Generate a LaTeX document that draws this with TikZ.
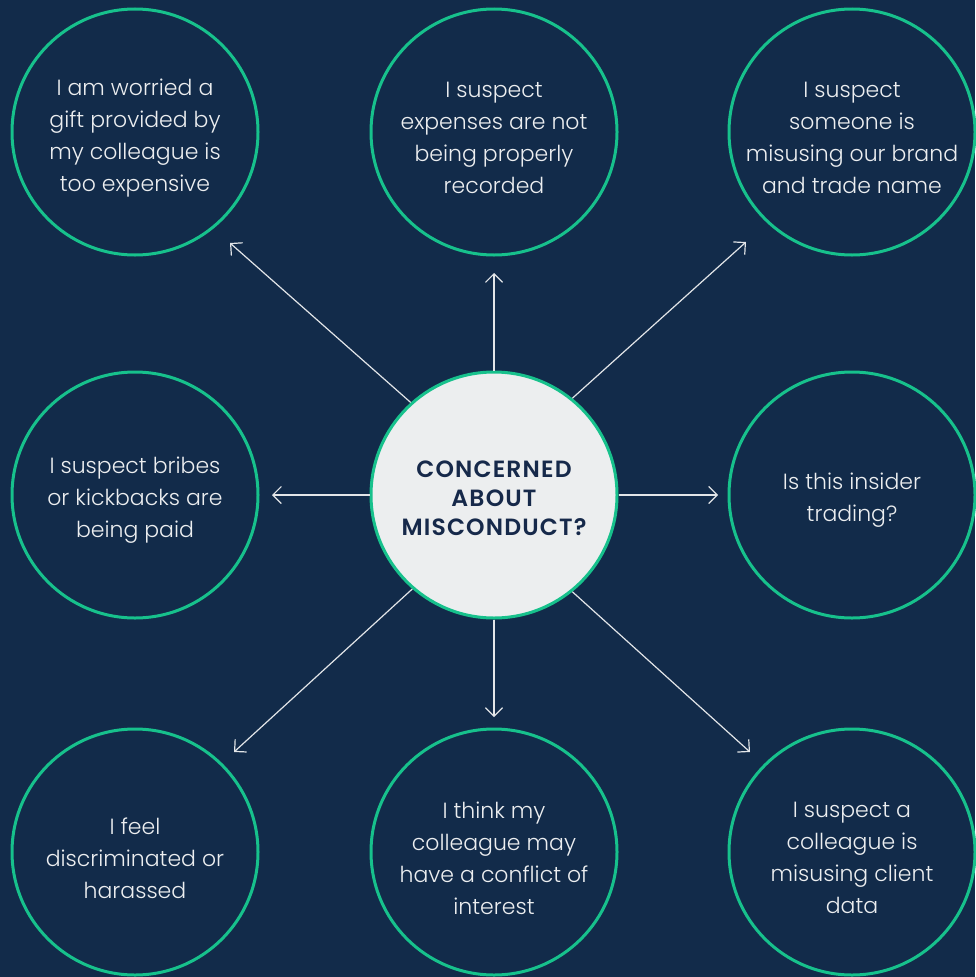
\documentclass[tikz,border=0pt]{standalone}
\usepackage{fontspec}
\setmainfont{Poppins Light}
\newfontfamily\headfont{Poppins SemiBold}[LetterSpace=5]
\usetikzlibrary{arrows.meta}

\definecolor{pagebg}{HTML}{122B4A}
\definecolor{ringgreen}{HTML}{17C18C}
\definecolor{hubfill}{HTML}{ECEEEF}
\definecolor{hubtext}{HTML}{16294A}
\definecolor{linkgray}{HTML}{E2E5E8}

\tikzset{
  ring/.style={circle, draw=ringgreen, line width=3pt, minimum size=246pt,
    inner sep=0pt},
  bubble/.style={ring},
  hub/.style={ring, fill=hubfill},
  caption/.style={align=center, inner sep=0pt, text=white!92!pagebg,
    font=\fontsize{22}{32}\selectfont},
  hubcaption/.style={align=center, inner sep=0pt, text=hubtext,
    font=\headfont\fontsize{23.5}{29}\selectfont},
  link/.style={draw=linkgray, line width=1.2pt,
    -{Straight Barb[length=8.5pt,width=17pt]}}
}

\begin{document}
\begin{tikzpicture}[x=1pt,y=-1pt]
  \fill[pagebg] (0,0) rectangle (975,977);
  \useasboundingbox (0,0) rectangle (975,977);

  % central question
  \node[hub] (hub) at (494,495) {};
  \node[hubcaption] (hub-text) at ([yshift=-3.5pt]hub.center) {CONCERNED\\ABOUT\\MISCONDUCT?};

  % surrounding concerns: rings
  \node[bubble] (gift)     at (135,132) {};
  \node[bubble] (expense)  at (494,132) {};
  \node[bubble] (brand)    at (852,132) {};
  \node[bubble] (bribe)    at (135,495) {};
  \node[bubble] (insider)  at (852,495) {};
  \node[bubble] (harass)   at (135,852) {};
  \node[bubble] (conflict) at (494,852) {};
  \node[bubble] (data)     at (852,852) {};

  % surrounding concerns: wording
  \node[caption] (gift-text)     at ([yshift=-6pt]gift.center)     {I am worried a\\gift provided by\\my colleague is\\too expensive};
  \node[caption] (expense-text)  at ([yshift=-6pt]expense.center)  {I suspect\\expenses are not\\being properly\\recorded};
  \node[caption] (brand-text)    at ([yshift=-6pt]brand.center)    {I suspect\\someone is\\misusing our brand\\and trade name};
  \node[caption] (bribe-text)    at ([yshift=-5pt]bribe.center)    {I suspect bribes\\or kickbacks are\\being paid};
  \node[caption] (insider-text)  at ([yshift=-5pt]insider.center)  {Is this insider\\trading?};
  \node[caption] (harass-text)   at ([yshift=-6pt]harass.center)   {I feel\\discriminated or\\harassed};
  \node[caption] (conflict-text) at ([yshift=-6pt]conflict.center) {I think my\\colleague may\\have a conflict of\\interest};
  \node[caption] (data-text)     at ([yshift=-6pt]data.center)     {I suspect a\\colleague is\\misusing client\\data};

  % arrow tips
  \coordinate (tip-gift)     at (230,243);
  \coordinate (tip-expense)  at (494,273);
  \coordinate (tip-brand)    at (746,242);
  \coordinate (tip-bribe)    at (272,495);
  \coordinate (tip-insider)  at (718,495);
  \coordinate (tip-harass)   at (234,752);
  \coordinate (tip-conflict) at (494,717);
  \coordinate (tip-data)     at (750,752);

  % connectors
  \draw[link] (hub.132)   -- (tip-gift);
  \draw[link] (hub.north) -- (tip-expense);
  \draw[link] (hub.51)    -- (tip-brand);
  \draw[link] (hub.west)  -- (tip-bribe);
  \draw[link] (hub.east)  -- (tip-insider);
  \draw[link] (hub.229)   -- (tip-harass);
  \draw[link] (hub.south) -- (tip-conflict);
  \draw[link] (hub.309)   -- (tip-data);
\end{tikzpicture}
\end{document}
